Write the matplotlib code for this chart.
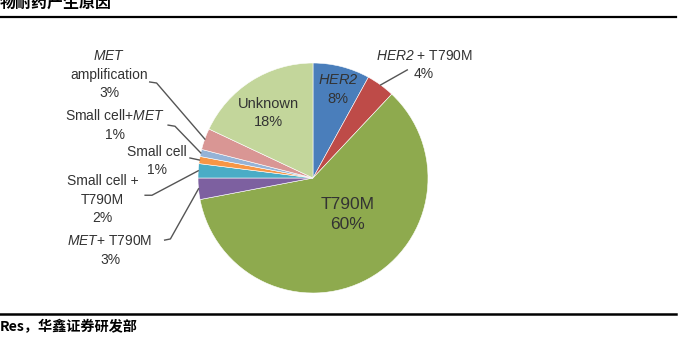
import matplotlib.pyplot as plt
import numpy as np
from matplotlib.lines import Line2D

plt.rcParams['font.family'] = ['Liberation Sans', 'Noto Sans CJK SC']
plt.rcParams['mathtext.fontset'] = 'custom'
plt.rcParams['mathtext.it'] = 'Liberation Sans:italic'
plt.rcParams['mathtext.rm'] = 'Liberation Sans:italic'

# slices, clockwise from 12 o'clock
labels = ['$HER2$\n8%',
          '$HER2$ + T790M\n4%',
          'T790M\n60%',
          '$MET$+ T790M\n3%',
          'Small cell +\nT790M\n2%',
          'Small cell\n1%',
          'Small cell+$MET$\n1%',
          '$MET$\namplification\n3%',
          'Unknown\n18%']
values = [8, 4, 60, 3, 2, 1, 1, 3, 18]
colors = ['#4a7ebb', '#be4b48', '#8eaa4e', '#7d60a0', '#4aacc6',
          '#f79646', '#95b3d7', '#d99694', '#c3d69b']
label_size = [10.5, 10, 12.5, 10, 10, 10, 10, 10, 10.5]

# where each label goes (pie radius = 1)
label_pos = [(0.22, 0.77), (0.965, 0.985), (0.30, -0.32), (-1.765, -0.63),
             (-1.83, -0.19), (-1.36, 0.15), (-1.72, 0.46), (-1.77, 0.90),
             (-0.39, 0.565)]
# leader line start + knee (None = no leader)
leaders = [None,
           [(0.82, 0.94)],
           None,
           [(-1.29, -0.54), (-1.24, -0.53)],
           [(-1.46, -0.15), (-1.40, -0.15)],
           [(-1.07, 0.174)],
           [(-1.26, 0.46), (-1.20, 0.45)],
           [(-1.42, 0.835), (-1.36, 0.826)],
           None]

fig = plt.figure(figsize=(6.9, 3.47), dpi=100)
ax = fig.add_axes([198 / 690, 54 / 347, 230 / 690, 230 / 347])
wedges, _ = ax.pie(values, colors=colors, startangle=90, counterclock=False,
                   radius=1, wedgeprops=dict(edgecolor='white', linewidth=0.4))
ax.set_xlim(-1, 1)
ax.set_ylim(-1, 1)
ax.set_aspect('equal')
ax.axis('off')

for w, lab, pos, ld, fs in zip(wedges, labels, label_pos, leaders, label_size):
    ax.text(pos[0], pos[1], lab, ha='center', va='center', fontsize=fs,
            color='#333333', linespacing=1.4, multialignment='center', clip_on=False)
    if ld is not None:
        ang = np.deg2rad((w.theta1 + w.theta2) / 2)
        pts = ld + [(np.cos(ang), np.sin(ang))]
        xs = [p[0] for p in pts]
        ys = [p[1] for p in pts]
        ax.plot(xs, ys, color='#555555', lw=1, clip_on=False)

# header / footer (title is cut off at the top in the source)
fig.text(0.0, 1 - 3 / 347, '物耐药产生原因', fontsize=11.5, fontweight='bold',
         family=['Noto Sans CJK SC'], ha='left', va='center')
fig.add_artist(Line2D([0, 676 / 690], [1 - 17 / 347] * 2, color='black', lw=1.6))
fig.add_artist(Line2D([0, 676 / 690], [1 - 314 / 347] * 2, color='black', lw=1.8))
fig.text(0.0, 1 - 327 / 347, 'Res，华鑫证券研发部', fontsize=10.2, fontweight='bold',
         family=['Noto Sans CJK SC'], ha='left', va='center')

fig.savefig('out.png', dpi=100)
